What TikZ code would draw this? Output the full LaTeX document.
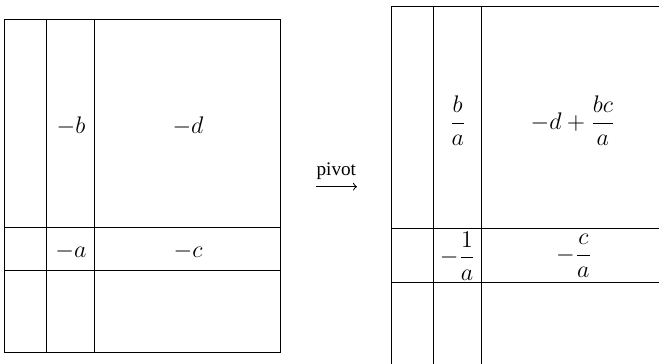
\documentclass[tikz,border=0pt]{standalone}
\usepackage{amsmath,amssymb}
\usepackage{fontspec}
\setmainfont{Liberation Serif}
\usepackage{tikz}

\begin{document}
\begin{tikzpicture}[x=0.5pt, y=-0.5pt, line width=0.5pt,
    every node/.style={font=\fontsize{13.2}{16}\selectfont, inner sep=0pt}]
    \useasboundingbox (0,0) rectangle (659,364);
    % left tableau
    \draw (4.5,19) rectangle (280,352.5);
    \draw (46.7,19) -- (46.7,352.5);
    \draw (94.7,19) -- (94.7,352.5);
    \draw (4.5,227.7) -- (280,227.7);
    \draw (4.5,270) -- (280,270);
    \node (mb) at (71,126) {$-b$};
    \node (md) at (188,126) {$-d$};
    \node (ma) at (71,251) {$-a$};
    \node (mc) at (188,251) {$-c$};
    % arrow
    \node[anchor=base, font=\fontsize{9.6}{11}\selectfont] (piv) at (336.3,175.7) {pivot};
    \coordinate (pl) at (316,186.7);
    \coordinate (pr) at (357,186.7);
    \draw[->] (pl) -- (pr);
    % right tableau
    \draw (659,6.7) -- (391,6.7) -- (391,364);
    \draw (433.7,6.7) -- (433.7,364);
    \draw (481.7,6.7) -- (481.7,364);
    \draw (391,228.3) -- (659,228.3);
    \draw (391,282.7) -- (659,282.7);
    \node (ba) at (457.7,121) {$\dfrac{b}{a}$};
    \node (dbc) at (573,121) {$-d+\dfrac{bc}{a}$};
    \node (ia) at (457.7,256) {$-\dfrac{1}{a}$};
    \node (ca) at (574,256) {$-\dfrac{c}{a}$};
  \end{tikzpicture}
\end{document}
